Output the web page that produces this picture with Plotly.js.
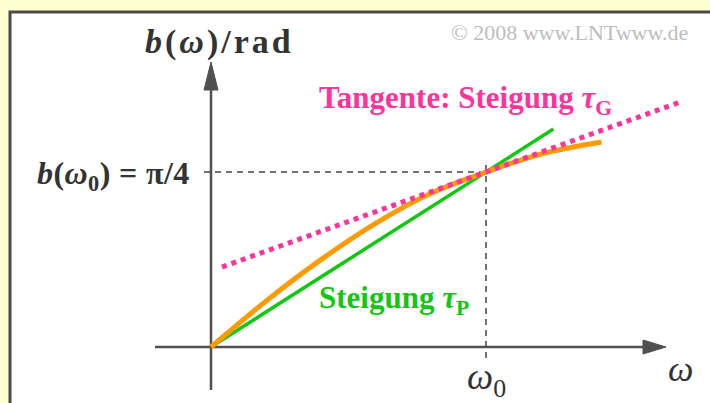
<!DOCTYPE html>
<html>
<head>
<meta charset="utf-8">
<script src="https://cdn.plot.ly/plotly-3.0.1.min.js"></script>
<style>
  html, body { margin: 0; padding: 0; background: #ffffd2; }
  #chart { width: 710px; height: 403px; }
</style>
</head>
<body>
<div id="chart"></div>
<script>
// Phase b(ω) in rad over ω in units of ω0
const omegaPhase = [0, 0.2, 0.4, 0.6, 0.8, 1.0, 1.2, 1.42];
const bPhase     = [0, 0.206, 0.392, 0.556, 0.690, 0.785, 0.866, 0.920];

// Secant through the origin and (ω0, π/4): slope τP
const omegaSecant = [0, 1.245];
const bSecant     = [0, 0.978];

// Tangent at ω0: slope τG
const omegaTangent = [0.04, 1.71];
const bTangent     = [0.359, 1.101];

const omega0 = 1.0;
const b0 = Math.PI / 4;

// Canvas and scale of the drawing
const W = 710, H = 403;
const OX = 211, OY = 347;       // origin in pixels
const PXW = 275, PXB = 222.8;   // pixels per unit ω / per rad
const fx = p => (p - OX) / PXW;
const fy = p => (OY - p) / PXB;

const serif = 'Liberation Serif, Times New Roman, serif';
const axisCol = '#505050';

const traces = [
  { x: omegaSecant, y: bSecant, mode: 'lines',
    line: { color: '#11c811', width: 3.5 }, hoverinfo: 'skip' },
  { x: omegaPhase, y: bPhase, mode: 'lines',
    line: { color: '#ff9a00', width: 5, shape: 'spline' }, hoverinfo: 'skip' },
  { x: omegaTangent, y: bTangent, mode: 'lines',
    line: { color: '#ff3399', width: 5, dash: '5px,5px' }, hoverinfo: 'skip' }
];

const shapes = [
  // white panel with dark frame
  { type: 'rect', xref: 'paper', yref: 'paper', layer: 'below',
    x0: 10 / W, x1: 1.02, y0: -0.02, y1: 1 - 12 / H,
    fillcolor: '#ffffff', line: { color: '#4a4a4a', width: 3 } },
  // ordinate
  { type: 'line', layer: 'below', x0: 0, x1: 0, y0: fy(390), y1: fy(86),
    line: { color: axisCol, width: 2.5 } },
  { type: 'path', layer: 'below',
    path: `M${fx(204)},${fy(90)} L${fx(211)},${fy(62)} L${fx(218)},${fy(90)} Z`,
    fillcolor: axisCol, line: { color: axisCol, width: 1 } },
  // abscissa
  { type: 'line', layer: 'below', x0: fx(155), x1: fx(645), y0: 0, y1: 0,
    line: { color: axisCol, width: 2.5 } },
  { type: 'path', layer: 'below',
    path: `M${fx(643)},${fy(340)} L${fx(666)},${fy(347)} L${fx(643)},${fy(354)} Z`,
    fillcolor: axisCol, line: { color: axisCol, width: 1 } },
  // guides to the working point
  { type: 'line', layer: 'below', x0: fx(204), x1: omega0, y0: b0, y1: b0,
    line: { color: '#444', width: 1.5, dash: '6px,5px' } },
  { type: 'line', layer: 'below', x0: omega0, x1: omega0, y0: fy(358), y1: fy(164),
    line: { color: '#444', width: 1.5, dash: '6px,5px' } }
];

const txt = '#333333';
const annotations = [
  { x: fx(143), y: fy(42), xanchor: 'left', align: 'left', yanchor: 'middle', showarrow: false,
    text: '<b><i>b</i>(<i>ω</i>)/rad</b>', font: { family: serif, size: 34, color: txt } },
  { x: fx(35), y: fy(175), xanchor: 'left', align: 'left', yanchor: 'middle', showarrow: false,
    text: '<b><i>b</i>(<i>ω</i><sub>0</sub>) = π/4</b>', font: { family: serif, size: 32, color: txt } },
  { x: fx(317), y: fy(100), xanchor: 'left', yanchor: 'middle', showarrow: false,
    text: '<b>Tangente: Steigung <i>τ</i><sub>G</sub></b>', font: { family: serif, size: 31, color: '#ff3399' } },
  { x: fx(317), y: fy(300), xanchor: 'left', yanchor: 'middle', showarrow: false,
    text: '<b>Steigung <i>τ</i><sub>P</sub></b>', font: { family: serif, size: 31, color: '#11c811' } },
  { x: omega0, y: fy(379), xanchor: 'center', yanchor: 'middle', showarrow: false,
    text: '<i>ω</i><sub>0</sub>', font: { family: serif, size: 37, color: txt } },
  { x: fx(680), y: fy(369), xanchor: 'center', yanchor: 'middle', showarrow: false,
    text: '<i>ω</i>', font: { family: serif, size: 36, color: txt } },
  { x: fx(690), y: fy(32), xanchor: 'right', yanchor: 'middle', showarrow: false,
    text: '© 2008 www.LNTwww.de', font: { family: serif, size: 22, color: '#bdbdbd' } }
];

// extra tracking for the wide axis titles (by annotation index)
const tracking = { 0: '3px', 1: '0.4px' };

const layout = {
  width: W, height: H,
  margin: { l: 0, r: 0, t: 0, b: 0, pad: 0 },
  paper_bgcolor: '#ffffd2', plot_bgcolor: 'rgba(0,0,0,0)',
  showlegend: false,
  xaxis: { range: [fx(0), fx(W)], visible: false, fixedrange: true },
  yaxis: { range: [fy(H), fy(0)], visible: false, fixedrange: true },
  shapes: shapes,
  annotations: annotations
};

Plotly.newPlot('chart', traces, layout, { staticPlot: true, displayModeBar: false })
  .then(gd => {
    gd.querySelectorAll('.annotation').forEach(g => {
      const idx = g.getAttribute('data-index');
      if (tracking[idx]) {
        const t = g.querySelector('text.annotation-text');
        if (t) t.style.letterSpacing = tracking[idx];
      }
    });
  });
</script>
</body>
</html>
